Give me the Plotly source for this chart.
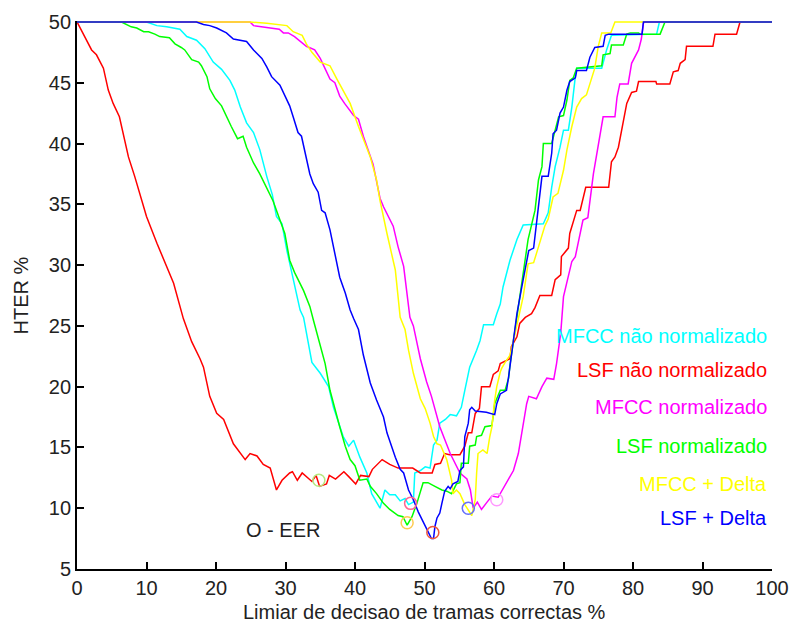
import plotly.graph_objects as go

# HTER (%) versus the decision threshold on correct frames (%), one curve per feature set
cyan_x = [0, 10.0, 11.5, 12.9, 14.8, 15.8, 17.2, 18.4, 19.6, 20.8, 22.0, 22.7, 23.5, 24.4, 25.4, 26.3,
          27.3, 28.1, 28.7, 29.5, 30.2, 31.1, 32.1, 32.6, 33.8, 35.0, 36.2, 36.9, 37.6, 38.3, 39.1,
          39.8, 40.7, 41.7, 42.4, 43.6, 44.3, 45.0, 45.8, 46.5, 47.2, 47.7, 48.4, 48.6, 49.4, 50.1,
          50.8, 51.3, 51.8, 52.2, 53.0, 53.7, 54.6, 55.3, 55.8, 56.5, 57.5, 58.0, 58.5, 59.9, 60.4,
          60.9, 61.3, 62.3, 63.3, 64.2, 67.1, 67.8, 68.3, 68.8, 69.5, 70.0, 70.7, 71.2, 71.7, 71.9,
          75.5, 76.2, 76.9, 83.4, 83.8, 100]
cyan_y = [50, 50, 49.7, 49.6, 49.4, 48.8, 48.5, 47.8, 46.7, 46.1, 45.2, 44.4, 43.0, 41.7, 40.9, 39.5,
          37.3, 35.8, 34.0, 33.4, 31.2, 29.0, 26.3, 25.7, 22.0, 21.1, 20.0, 18.3, 17.0, 15.9, 15.1,
          15.6, 14.2, 12.9, 11.2, 10.0, 11.5, 11.1, 11.1, 10.6, 10.8, 10.3, 10.5, 12.9, 13.1, 13.4,
          13.3, 15.2, 15.6, 17.0, 17.3, 17.7, 17.6, 18.3, 19.7, 21.6, 23.0, 23.8, 25.1, 25.1, 26.0,
          26.8, 28.2, 30.4, 32.1, 33.3, 33.4, 34.3, 36.4, 38.1, 39.7, 41.1, 41.1, 43.0, 45.5, 46.2,
          46.2, 47.7, 48.9, 49.0, 50, 50]

red_x = [0, 2.1, 2.8, 3.8, 4.5, 5.2, 6.1, 7.4, 8.3, 10.0, 11.5, 13.9, 15.3, 16.5, 17.7, 18.2, 19.1,
         20.1, 21.1, 22.5, 24.2, 24.9, 25.9, 26.8, 27.8, 28.7, 29.5, 30.6, 31.0, 31.7, 32.4, 33.8,
         34.4, 34.9, 35.9, 36.3, 37.2, 38.4, 39.1, 40.1, 40.8, 42.0, 42.5, 43.9, 45.0, 46.2, 48.3,
         49.4, 51.1, 51.5, 52.3, 52.9, 53.6, 55.1, 55.8, 56.3, 56.8, 57.3, 57.9, 58.2, 59.4, 59.9,
         60.6, 60.9, 62.3, 62.5, 63.3, 63.7, 64.5, 65.4, 65.9, 66.6, 68.3, 68.8, 69.6, 69.7, 70.7,
         70.9, 71.9, 72.4, 73.2, 76.5, 76.9, 77.4, 77.9, 78.6, 79.1, 79.8, 80.5, 80.8, 83.3, 83.4,
         85.3, 85.8, 86.5, 86.8, 87.5, 87.7, 91.5, 91.8, 94.9, 95.4, 100]
red_y = [50, 47.7, 47.3, 46.2, 44.4, 43.3, 42.2, 38.9, 37.3, 34.0, 31.8, 28.5, 25.6, 23.7, 22.3, 21.6,
         19.2, 17.8, 17.3, 15.3, 14.0, 14.5, 14.3, 13.6, 13.3, 11.5, 12.3, 12.9, 13.0, 12.3, 12.9,
         12.2, 12.7, 11.8, 12.0, 12.7, 12.4, 13.0, 12.6, 12.0, 12.7, 12.6, 13.2, 14.0, 13.6, 13.3,
         13.3, 12.9, 12.9, 13.6, 13.7, 14.5, 14.4, 14.4, 15.1, 16.2, 16.2, 17.8, 18.2, 20.0, 20.0,
         21.0, 21.3, 21.9, 22.3, 23.3, 24.1, 25.2, 25.7, 26.0, 26.5, 27.5, 27.5, 28.8, 29.2, 30.7,
         31.4, 32.6, 34.5, 34.5, 36.4, 36.4, 38.5, 38.9, 39.7, 41.9, 43.3, 44.2, 44.3, 45.1, 45.1,
         44.9, 44.9, 45.9, 46.0, 46.6, 46.9, 48.0, 48.0, 49.0, 49.0, 50, 50]

magenta_x = [0, 24.9, 25.4, 27.7, 29.1, 29.7, 30.4, 31.3, 33.0, 34.2, 35.0, 36.4, 37.1, 37.8, 38.5,
             39.8, 40.5, 41.2, 42.2, 42.6, 43.6, 44.1, 45.5, 46.2, 47.0, 47.9, 48.4, 49.4, 50.3,
             51.0, 52.2, 53.7, 55.1, 56.1, 56.6, 57.0, 57.6, 58.2, 59.0, 59.7, 60.6, 61.3, 62.0,
             62.8, 63.5, 63.8, 64.2, 64.7, 65.0, 66.1, 66.9, 67.6, 68.6, 69.0, 69.6, 70.0, 71.2,
             71.7, 72.8, 73.5, 74.3, 75.0, 75.7, 77.4, 77.7, 78.1, 79.3, 79.8, 80.3, 80.8, 81.2,
             81.5, 81.7, 100]
magenta_y = [50, 50, 49.7, 49.5, 49.4, 49.1, 49.1, 48.8, 48.0, 47.7, 47.0, 45.3, 45.0, 43.9, 43.3,
             42.3, 42.0, 40.6, 38.9, 38.3, 35.5, 34.8, 33.2, 31.5, 29.9, 25.7, 25.0, 22.3, 20.4,
             19.2, 16.7, 14.5, 12.9, 12.4, 11.5, 10.0, 10.5, 9.9, 10.5, 11.0, 10.9, 11.6, 12.2,
             13.1, 14.5, 15.5, 16.7, 18.6, 19.2, 19.0, 20.0, 20.7, 20.6, 21.9, 24.4, 27.4, 30.3,
             30.7, 33.7, 33.9, 37.5, 39.7, 42.2, 42.2, 43.8, 44.9, 44.9, 46.6, 47.1, 47.7, 48.6,
             49.9, 50, 50]

green_x = [0, 6.4, 7.8, 8.6, 9.6, 10.3, 11.2, 11.9, 13.3, 14.1, 15.0, 15.5, 16.5, 17.5, 17.9, 18.7,
           19.1, 19.9, 20.8, 21.5, 22.2, 23.1, 23.9, 24.4, 25.4, 26.3, 27.3, 28.2, 29.2, 29.9, 30.6,
           31.3, 32.6, 33.5, 34.0, 34.5, 35.7, 36.4, 37.1, 37.8, 38.6, 39.3, 40.0, 40.7, 41.7, 42.2,
           43.1, 44.1, 45.0, 46.2, 46.9, 47.5, 48.2, 48.9, 49.8, 50.5, 51.5, 52.5, 53.2, 53.9, 54.6,
           55.1, 55.3, 56.3, 56.5, 57.3, 57.5, 58.2, 58.7, 59.7, 60.1, 60.9, 61.6, 62.1, 62.3, 62.8,
           63.3, 64.0, 64.5, 64.9, 65.9, 66.4, 66.9, 67.1, 68.3, 68.8, 69.3, 70.0, 70.5, 70.9, 71.4,
           71.9, 75.5, 75.7, 76.7, 76.9, 78.6, 79.1, 79.6, 80.8, 81.0, 83.9, 84.6, 100]
green_y = [50, 50, 49.6, 49.5, 49.2, 49.2, 49.0, 48.8, 48.7, 48.2, 47.9, 47.7, 46.9, 46.7, 46.4, 45.5,
           44.5, 43.7, 43.1, 42.2, 41.4, 40.4, 40.6, 39.7, 38.4, 37.5, 36.4, 35.3, 33.7, 32.6, 30.4,
           29.4, 27.9, 26.6, 25.5, 24.4, 21.9, 19.7, 18.1, 16.7, 15.1, 14.0, 13.5, 12.3, 12.4, 11.8,
           11.2, 10.4, 9.9, 9.4, 9.3, 8.6, 9.3, 10.4, 12.1, 12.1, 11.8, 11.5, 11.4, 11.2, 12.0,
           12.1, 13.7, 13.7, 15.1, 15.2, 15.9, 16.0, 16.7, 16.8, 18.6, 19.7, 19.7, 20.7, 21.8, 23.8,
           26.0, 28.8, 30.4, 32.1, 34.5, 37.0, 38.1, 40.0, 40.0, 41.1, 42.2, 42.3, 43.6, 45.2, 45.4,
           46.2, 46.4, 47.3, 47.4, 48.1, 48.1, 49.0, 49.1, 49.1, 49.0, 49.0, 50, 50]

yellow_x = [0, 24.9, 27.3, 30.2, 31.1, 32.4, 33.0, 33.8, 35.0, 36.4, 37.4, 38.3, 39.3, 40.5, 41.2,
            42.2, 43.1, 43.6, 44.6, 45.8, 46.5, 47.2, 47.7, 48.4, 49.4, 50.1, 50.8, 51.3, 51.8,
            52.3, 53.2, 53.9, 54.1, 54.6, 55.1, 55.8, 56.8, 57.3, 57.5, 57.7, 58.4, 59.0, 59.4,
            59.7, 60.1, 60.4, 60.9, 61.1, 61.6, 62.3, 62.8, 63.5, 64.2, 64.9, 65.7, 66.4, 67.3,
            67.8, 68.5, 69.2, 70.0, 70.5, 71.2, 71.9, 72.6, 73.3, 74.0, 74.5, 75.0, 75.5, 76.8,
            77.4, 100]
yellow_y = [50, 50, 49.9, 49.7, 49.2, 48.9, 48.2, 47.5, 46.7, 46.4, 45.3, 44.4, 43.3, 41.4, 40.3,
            38.9, 37.0, 35.3, 32.6, 29.6, 25.7, 24.7, 23.0, 21.1, 19.0, 18.2, 17.0, 15.9, 15.3,
            15.2, 14.0, 12.3, 11.2, 11.5, 11.2, 10.3, 9.4, 10.7, 12.9, 14.5, 14.8, 14.5, 15.9,
            16.7, 18.9, 20.0, 21.2, 21.5, 22.0, 22.6, 23.8, 25.5, 27.4, 30.1, 30.2, 31.5, 33.2,
            33.8, 35.6, 35.9, 37.8, 39.5, 41.4, 43.0, 43.7, 44.0, 45.2, 46.2, 48.0, 49.1, 49.1,
            50, 50]

blue_x = [0, 17.2, 18.2, 19.1, 20.1, 21.5, 22.5, 23.5, 24.4, 25.4, 26.6, 27.3, 28.0, 29.2, 29.9,
          30.6, 31.1, 31.8, 32.3, 32.8, 33.5, 34.0, 34.7, 35.2, 35.7, 36.4, 37.1, 37.8, 38.6, 39.3,
          39.8, 40.5, 41.2, 42.2, 43.1, 44.1, 44.6, 45.0, 45.8, 46.5, 47.0, 47.7, 48.4, 49.1, 49.8,
          50.3, 51.0, 51.3, 51.5, 51.8, 52.2, 52.5, 52.9, 53.4, 53.7, 54.1, 54.8, 55.1, 55.6, 55.8,
          56.3, 56.5, 56.8, 57.3, 58.9, 60.1, 60.4, 60.9, 61.8, 62.1, 62.5, 62.8, 63.3, 64.0, 64.5,
          65.0, 65.7, 66.1, 66.6, 66.9, 67.8, 68.3, 68.5, 69.0, 69.5, 70.0, 70.5, 70.9, 71.7, 71.9,
          73.3, 73.8, 74.5, 75.7, 76.0, 76.5, 81.3, 81.5, 100]
blue_y = [50, 50, 49.8, 49.7, 49.5, 49.1, 48.6, 48.5, 48.4, 47.7, 47.0, 46.3, 45.5, 44.8, 44.0,
          43.1, 42.2, 40.9, 40.6, 39.2, 37.5, 36.7, 36.0, 34.5, 34.3, 32.9, 31.0, 29.0, 27.7, 26.3,
          25.6, 24.7, 22.6, 20.3, 18.9, 17.5, 16.2, 15.5, 14.2, 13.2, 12.9, 11.5, 10.7, 9.7, 8.9,
          8.2, 7.5, 7.5, 8.5, 9.2, 9.6, 10.4, 11.4, 11.8, 11.6, 12.0, 12.2, 13.1, 13.4, 15.9,
          17.0, 18.1, 18.3, 18.0, 17.9, 17.7, 18.6, 19.4, 19.7, 20.8, 22.5, 24.2, 26.0, 28.2, 29.6,
          31.2, 31.4, 33.4, 35.6, 37.3, 37.3, 39.2, 40.8, 41.1, 42.5, 43.0, 44.4, 45.1, 45.4, 46.0,
          46.0, 47.1, 47.9, 48.0, 48.9, 49.0, 49.0, 50, 50]

# Equal error rate point of each curve
eer_x = {"cyan": 48.0, "red": 34.8, "magenta": 60.4, "green": 47.5, "yellow": 56.3, "blue": 51.2}
eer_y = {"cyan": 10.4, "red": 12.3, "magenta": 10.7, "green": 8.8, "yellow": 10.0, "blue": 8.0}

series_names = ["MFCC não normalizado", "LSF não normalizado", "MFCC normalizado",
                "LSF normalizado", "MFCC + Delta", "LSF + Delta"]
label_y = [24.2, 21.4, 18.3, 15.1, 12.0, 9.2]

x_ticks = [0, 10, 20, 30, 40, 50, 60, 70, 80, 90, 100]
y_ticks = [5, 10, 15, 20, 25, 30, 35, 40, 45, 50]

colors = {"cyan": "#00FFFF", "red": "#FF0000", "magenta": "#FF00FF",
          "green": "#00FF00", "yellow": "#FFFF00", "blue": "#0000FF"}
series = [("cyan", cyan_x, cyan_y), ("red", red_x, red_y), ("magenta", magenta_x, magenta_y),
          ("green", green_x, green_y), ("yellow", yellow_x, yellow_y), ("blue", blue_x, blue_y)]

FONT = "Liberation Sans, Arial, sans-serif"
TEXT = "#222222"

fig = go.Figure()
for key, xs, ys in series:
    fig.add_trace(go.Scatter(x=xs, y=ys, mode="lines",
                             line=dict(color=colors[key], width=1.5),
                             showlegend=False, hoverinfo="skip"))
for key, _, _ in series:
    fig.add_trace(go.Scatter(x=[eer_x[key]], y=[eer_y[key]], mode="markers",
                             marker=dict(symbol="circle-open", size=12,
                                         line=dict(color=colors[key], width=1.5)),
                             showlegend=False, hoverinfo="skip"))

# series labels, right-aligned inside the axes
for (key, _, _), name, ly in zip(series, series_names, label_y):
    fig.add_annotation(x=99.6, y=ly, text=name, showarrow=False, xanchor="right",
                       yanchor="middle", font=dict(family=FONT, size=20, color=colors[key]))

fig.add_annotation(x=29.6, y=8.2, text="O - EER", showarrow=False, xanchor="center",
                   yanchor="middle", font=dict(family=FONT, size=20, color=TEXT))

# axis titles
fig.add_annotation(xref="paper", yref="paper", x=0.5, y=-0.079,
                   text="Limiar de decisao de tramas correctas %", showarrow=False,
                   xanchor="center", yanchor="middle", font=dict(family=FONT, size=20, color=TEXT))
fig.add_annotation(xref="paper", yref="paper", x=-0.08, y=0.5, text="HTER %", textangle=-90,
                   showarrow=False, xanchor="center", yanchor="middle",
                   font=dict(family=FONT, size=20, color=TEXT))

axis_style = dict(ticks="inside", ticklen=7, tickcolor="black", tickwidth=1.5,
                  showline=True, linecolor="black", linewidth=1.8, showgrid=False,
                  zeroline=False, automargin=False,
                  tickfont=dict(family=FONT, size=20, color=TEXT))

fig.update_layout(
    width=789, height=624,
    margin=dict(l=77, r=17, t=21, b=55, autoexpand=False),
    paper_bgcolor="white", plot_bgcolor="white",
    font=dict(family=FONT, size=20, color=TEXT),
    xaxis=dict(range=[0, 100], tickvals=x_ticks, **axis_style),
    yaxis=dict(range=[5, 50.08], tickvals=y_ticks, **axis_style),
)

fig.write_html("out.html")
